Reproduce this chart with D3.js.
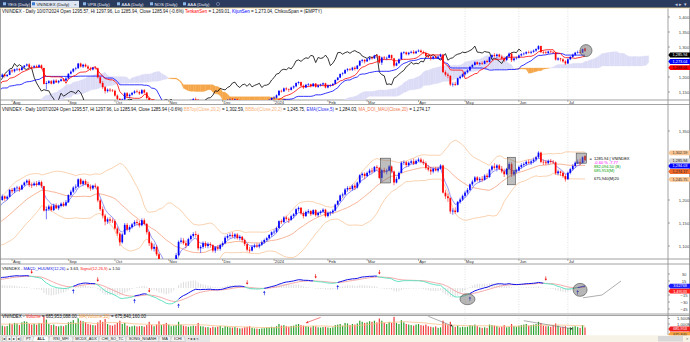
<!DOCTYPE html>
<html><head><meta charset="utf-8">
<script src="https://cdn.jsdelivr.net/npm/d3@7"></script>
<style>
body{margin:0;background:#fff;overflow:hidden}
svg{display:block;font-family:"Liberation Sans",Arial,sans-serif}
</style></head>
<body><svg id="c" width="690" height="342"></svg>
<script>
// ---------------- DATA ----------------
const tradingDays = {
 "2023-04":"3 4 5 6 7 10 11 12 13 14 17 18 19 20 21 24 25 26 27 28",
 "2023-05":"4 5 8 9 10 11 12 15 16 17 18 19 22 23 24 25 26 29 30 31",
 "2023-06":"1 2 5 6 7 8 9 12 13 14 15 16 19 20 21 22 23 26 27 28 29 30",
 "2023-07":"3 4 5 6 7 10 11 12 13 14 17 18 19 20 21 24 25 26 27 28 31",
 "2023-08":"1 2 3 4 7 8 9 10 11 14 15 16 17 18 21 22 23 24 25 28 29 30 31",
 "2023-09":"5 6 7 8 11 12 13 14 15 18 19 20 21 22 25 26 27 28 29",
 "2023-10":"2 3 4 5 6 9 10 11 12 13 16 17 18 19 20 23 24 25 26 27 30 31",
 "2023-11":"1 2 3 6 7 8 9 10 13 14 15 16 17 20 21 22 23 24 27 28 29 30",
 "2023-12":"1 4 5 6 7 8 11 12 13 14 15 18 19 20 21 22 25 26 27 28 29",
 "2024-01":"2 3 4 5 8 9 10 11 12 15 16 17 18 19 22 23 24 25 26 29 30 31",
 "2024-02":"1 2 5 6 7 15 16 19 20 21 22 23 26 27 28 29",
 "2024-03":"1 4 5 6 7 8 11 12 13 14 15 18 19 20 21 22 25 26 27 28 29",
 "2024-04":"1 2 3 4 5 8 9 10 11 12 15 16 17 19 22 23 24 25 26",
 "2024-05":"2 3 6 7 8 9 10 13 14 15 16 17 20 21 22 23 24 27 28 29 30 31",
 "2024-06":"3 4 5 6 7 10 11 12 13 14 17 18 19 20 21 24 25 26 27 28",
 "2024-07":"1 2 3 4 5 8 9 10"
};
const firstVisibleDate = "2023-07-26";

// [open, high, low, close]
const ohlc = [
// 2023-04
[1064,1070,1060,1067],[1067,1072,1063,1068],[1068,1074,1064,1070],[1070,1071,1052,1056],[1056,1062,1052,1057],[1057,1069,1055,1067],[1067,1071,1062,1066],[1066,1068,1054,1057],[1057,1060,1050,1054],[1054,1059,1051,1055],[1055,1057,1046,1050],[1050,1055,1047,1052],[1052,1054,1043,1047],[1047,1050,1041,1044],[1044,1047,1038,1042],[1042,1045,1036,1040],[1040,1042,1030,1034],[1034,1042,1032,1040],[1040,1047,1038,1044],[1044,1052,1042,1049],
// 2023-05
[1049,1051,1039,1042],[1042,1048,1040,1045],[1045,1054,1043,1052],[1052,1058,1050,1055],[1055,1062,1052,1060],[1060,1066,1057,1063],[1063,1069,1060,1066],[1066,1071,1062,1067],[1067,1069,1058,1062],[1062,1064,1052,1055],[1055,1065,1053,1063],[1063,1070,1061,1067],[1067,1070,1061,1065],[1065,1069,1062,1066],[1066,1068,1057,1060],[1060,1070,1058,1068],[1068,1071,1063,1067],[1067,1073,1064,1070],[1070,1076,1067,1073],[1073,1079,1070,1075],
// 2023-06
[1075,1080,1072,1077],[1077,1092,1076,1090],[1090,1101,1088,1098],[1098,1100,1086,1090],[1090,1097,1087,1094],[1094,1104,1092,1101],[1101,1105,1096,1100],[1100,1111,1098,1108],[1108,1113,1104,1109],[1109,1115,1106,1111],[1111,1118,1108,1115],[1115,1124,1112,1120],[1120,1123,1112,1116],[1116,1121,1112,1117],[1117,1125,1114,1122],[1122,1127,1119,1124],[1124,1130,1120,1126],[1126,1128,1118,1122],[1122,1125,1115,1120],[1120,1125,1116,1121],[1121,1131,1119,1128],[1128,1131,1117,1120],
// 2023-07
[1120,1129,1118,1126],[1126,1131,1122,1128],[1128,1133,1124,1129],[1129,1132,1123,1128],[1128,1136,1126,1133],[1133,1143,1131,1140],[1140,1145,1136,1140],[1140,1151,1138,1149],[1149,1164,1147,1161],[1161,1170,1158,1166],[1166,1170,1160,1165],[1165,1175,1163,1172],[1172,1177,1168,1173],[1173,1178,1169,1175],[1175,1184,1172,1181],[1181,1195,1179,1192],[1192,1201,1189,1198],
[1200,1212,1198,1208],[1208,1210,1198,1203],[1203,1210,1200,1207],[1207,1224,1206,1222],
// 2023-08
[1222,1226,1214,1219],[1219,1228,1215,1226],[1226,1231,1220,1227],[1227,1230,1218,1223],[1223,1234,1222,1232],[1232,1240,1230,1238],[1238,1245,1235,1242],[1242,1246,1228,1233],[1233,1238,1226,1232],[1232,1240,1230,1236],[1236,1241,1229,1233],[1233,1243,1231,1239],[1239,1242,1226,1230],[1230,1231,1175,1177],[1177,1186,1158,1180],[1180,1190,1176,1186],[1186,1190,1175,1178],[1178,1192,1176,1188],[1188,1193,1180,1182],[1182,1190,1178,1187],[1187,1195,1184,1192],[1192,1196,1185,1188],[1188,1200,1186,1195],
// 2023-09
[1195,1212,1194,1211],[1211,1222,1208,1218],[1218,1230,1215,1227],[1227,1234,1222,1229],[1229,1247,1228,1245],[1245,1248,1232,1235],[1235,1244,1230,1241],[1241,1245,1232,1235],[1235,1240,1225,1228],[1228,1234,1220,1225],[1225,1233,1222,1231],[1231,1236,1225,1229],[1229,1231,1195,1199],[1199,1202,1176,1180],[1180,1186,1160,1166],[1166,1170,1145,1153],[1153,1162,1148,1158],[1158,1163,1150,1155],[1155,1160,1150,1154],
// 2023-10
[1154,1158,1135,1138],[1138,1142,1122,1127],[1127,1130,1100,1108],[1108,1128,1105,1125],[1125,1150,1124,1146],[1146,1150,1132,1136],[1136,1145,1130,1141],[1141,1150,1138,1147],[1147,1156,1143,1152],[1152,1158,1146,1150],[1150,1155,1140,1145],[1145,1160,1143,1156],[1156,1160,1145,1148],[1148,1150,1125,1130],[1130,1132,1100,1106],[1106,1110,1090,1094],[1094,1105,1088,1098],[1098,1102,1078,1082],[1082,1085,1052,1057],[1057,1068,1050,1064],[1064,1066,1038,1042],[1042,1045,1020,1028],
// 2023-11
[1028,1045,1025,1041],[1041,1050,1035,1046],[1046,1068,1044,1064],[1064,1085,1060,1080],[1080,1112,1078,1109],[1109,1118,1105,1112],[1112,1117,1103,1106],[1106,1112,1095,1101],[1101,1118,1100,1115],[1115,1125,1112,1122],[1122,1130,1118,1126],[1126,1132,1120,1124],[1124,1127,1090,1095],[1095,1102,1085,1098],[1098,1110,1094,1106],[1106,1110,1096,1100],[1100,1108,1095,1104],[1104,1108,1096,1102],[1102,1104,1086,1090],[1090,1100,1085,1097],[1097,1102,1090,1094],[1094,1105,1090,1102],
// 2023-12
[1102,1110,1098,1106],[1106,1122,1104,1118],[1118,1126,1114,1122],[1122,1128,1118,1124],[1124,1130,1118,1121],[1121,1128,1115,1125],[1125,1128,1114,1117],[1117,1124,1112,1120],[1120,1122,1108,1113],[1113,1116,1100,1104],[1104,1106,1088,1092],[1092,1098,1085,1090],[1090,1102,1088,1098],[1098,1105,1095,1101],[1101,1106,1096,1099],[1099,1106,1095,1103],[1103,1112,1100,1108],[1108,1116,1105,1113],[1113,1120,1110,1117],[1117,1126,1115,1124],[1124,1132,1120,1130],
// 2024-01
[1130,1136,1126,1131],[1131,1142,1128,1139],[1139,1156,1138,1154],[1154,1158,1148,1152],[1152,1165,1150,1162],[1162,1166,1155,1159],[1159,1162,1150,1157],[1157,1168,1155,1165],[1165,1172,1160,1169],[1169,1182,1166,1180],[1180,1186,1175,1183],[1183,1185,1168,1171],[1171,1175,1160,1165],[1165,1177,1163,1174],[1174,1180,1170,1176],[1176,1178,1165,1169],[1169,1180,1168,1178],[1178,1180,1164,1167],[1167,1175,1163,1172],[1172,1178,1168,1175],[1175,1182,1172,1179],[1179,1181,1162,1165],
// 2024-02
[1165,1175,1162,1172],[1172,1176,1166,1173],[1173,1180,1170,1177],[1177,1192,1175,1190],[1190,1200,1188,1198],[1198,1212,1196,1210],[1210,1216,1205,1212],[1212,1226,1210,1223],[1223,1230,1218,1226],[1226,1230,1220,1224],[1224,1234,1220,1231],[1231,1236,1222,1227],[1227,1240,1225,1238],[1238,1256,1236,1254],[1254,1260,1248,1257],[1257,1260,1245,1252],
// 2024-03
[1252,1262,1250,1259],[1259,1268,1255,1264],[1264,1270,1258,1262],[1262,1274,1260,1272],[1272,1276,1264,1270],[1270,1272,1245,1248],[1248,1268,1240,1265],[1265,1270,1258,1262],[1262,1268,1256,1264],[1264,1276,1262,1273],[1273,1275,1258,1262],[1262,1264,1232,1238],[1238,1250,1236,1246],[1246,1262,1244,1259],[1259,1284,1258,1281],[1281,1286,1276,1282],[1282,1285,1272,1276],[1276,1284,1272,1281],[1281,1288,1278,1284],[1284,1290,1276,1279],[1279,1288,1277,1285],
// 2024-04
[1285,1292,1283,1288],[1288,1292,1280,1283],[1283,1288,1276,1280],[1280,1284,1266,1270],[1270,1276,1262,1266],[1266,1272,1255,1262],[1262,1270,1258,1268],[1268,1272,1262,1264],[1264,1272,1260,1268],[1268,1278,1266,1275],[1275,1277,1214,1216],[1216,1222,1202,1208],[1208,1214,1196,1204],[1204,1206,1170,1175],[1175,1182,1168,1177],[1177,1184,1170,1174],[1174,1198,1172,1196],[1196,1205,1192,1201],[1201,1212,1198,1209],
// 2024-05
[1209,1220,1205,1216],[1216,1226,1212,1222],[1222,1236,1220,1234],[1234,1244,1230,1240],[1240,1252,1238,1249],[1249,1252,1240,1243],[1243,1250,1238,1246],[1246,1252,1240,1244],[1244,1256,1242,1253],[1253,1258,1246,1250],[1250,1268,1248,1266],[1266,1276,1262,1273],[1273,1280,1266,1270],[1270,1278,1262,1275],[1275,1278,1265,1268],[1268,1274,1258,1262],[1262,1268,1250,1256],[1256,1270,1254,1268],[1268,1282,1265,1278],[1278,1282,1250,1256],[1256,1265,1252,1262],[1262,1268,1258,1264],
// 2024-06
[1264,1275,1262,1272],[1272,1280,1268,1276],[1276,1282,1272,1278],[1278,1286,1275,1283],[1283,1288,1278,1281],[1281,1288,1276,1284],[1284,1292,1280,1288],[1288,1296,1284,1293],[1293,1306,1290,1303],[1303,1305,1280,1283],[1283,1288,1276,1282],[1282,1287,1276,1280],[1280,1288,1277,1285],[1285,1289,1279,1283],[1283,1287,1278,1282],[1282,1284,1255,1258],[1258,1266,1254,1262],[1262,1264,1252,1259],[1259,1262,1248,1252],[1252,1256,1240,1245],
// 2024-07
[1245,1262,1244,1259],[1259,1270,1256,1267],[1267,1278,1264,1274],[1274,1284,1270,1281],[1281,1288,1278,1283],[1283,1290,1276,1281],[1281,1295,1280,1293],[1295.57,1297.96,1285.94,1285.94]
];

// volume, millions of shares
const volumeM = [
620,650,700,680,560,620,600,650,580,540,560,520,580,600,540,560,620,580,600,640,
560,600,680,700,720,760,800,780,820,760,740,800,780,700,720,760,740,820,860,900,
880,1050,1100,1000,950,1000,980,1050,1000,950,1100,1150,1000,950,1000,980,1050,900,880,850,950,900,
850,900,880,820,900,1000,950,1050,1200,1150,1050,1100,1000,950,1050,1150,1200,
850,780,820,1050,
980,1100,1050,900,1150,1250,1200,1000,950,1020,930,1100,1050,1700,1400,1000,900,950,820,780,850,800,900,
1150,1200,1350,1100,1500,1300,1250,1150,1000,950,900,880,1150,1350,1200,1450,1000,900,850,
950,1100,1300,1000,1100,850,750,800,850,780,800,820,760,900,1200,900,800,950,1250,900,1000,1100,
950,800,850,900,1200,950,850,800,750,800,850,820,1100,800,780,700,720,650,750,700,760,820,
650,800,750,700,680,720,650,600,620,700,750,800,650,600,580,560,600,620,680,700,750,
720,800,1000,850,900,800,750,820,850,950,1000,900,850,800,760,700,820,780,700,680,720,750,
680,650,700,900,950,1000,850,1100,1050,900,1000,950,1050,1300,1200,1100,
1150,1250,1200,1300,1150,1500,1300,1100,1000,1200,1100,1650,1100,1000,1350,1150,1000,950,900,850,950,
1000,900,850,950,800,750,700,780,650,700,1300,1050,900,1200,800,750,850,700,750,
720,750,900,850,950,800,700,650,700,650,950,900,850,800,700,750,900,700,750,1000,800,750,
850,900,950,1000,850,900,950,1000,1200,1100,850,800,800,750,900,1050,850,700,750,800,
650,700,750,800,720,650,900,686
];

const monthNames = ["2024","Feb","Mar","Apr","May","Jun","Jul","Aug","Sep","Oct","Nov","Dec"];
const priceTicksTop = [1150,1200,1300,1350,1400];      // 1,250 hidden behind value boxes
const priceTicksMain = [1100,1150,1200,1350];          // 1,250 / 1,300 hidden behind value boxes
const macdTicks = [30,15,-15,-30,-45];                 // 0 hidden behind value boxes
const volumeTicks = [1000,1500];

const lastValues = {open:"1295.57",hi:"1297.96",lo:"1285.94",close:"1285.94",chg:"(-0.6%)",
  tenkan:"1,269.01",kijun:"1,273.04",bbTop:"1,302.59",bbBot:"1,245.75",ema5:"1,284.03",ma20:"1,274.17",
  macd:"3.63",signal:"1.50",macdBox:"3.62768",signalBox:"1.49533",vol:"685,953,088.00",volMA:"675,840,160.00",
  volBox:"685,953",volMABox:"675,840"};

// user drawings (data space)
const boxesMain = [["2024-03-11","2024-03-14",1237,1291],["2024-05-28","2024-05-30",1233,1293],["2024-07-05","2024-07-10",1280,1302]];
const circleTop = ["2024-07-10",1288];
const ellipsesMacd = [["2024-05-03",-24],["2024-07-08",-4]];

// ---------------- BUILD ----------------
const dates=[];
for (const [ym,s] of Object.entries(tradingDays)) for (const d of s.split(" ")) dates.push(ym+"-"+d.padStart(2,"0"));
const N = dates.length;
const D = ohlc.map((r,i)=>({i,date:dates[i],o:r[0],h:r[1],l:r[2],c:r[3],v:volumeM[i]}));
const f0 = dates.indexOf(firstVisibleDate);
const idx = d => dates.indexOf(d);

const svg = d3.select("#c");
const x = d3.scaleLinear().domain([f0, N-1]).range([2.3, 585]);
const RX = 668;

const y1 = d3.scaleLinear().domain([1150,1400]).range([92,17]);
const y2 = d3.scaleLinear().domain([1100,1350]).range([246,131]);
const y3 = d3.scaleLinear().domain([-45,30]).range([309,274]);
const y4 = d3.scaleLinear().domain([0,1500]).range([335,318.5]);

const panels = [
 {id:"p1",top:8.5,bottom:100},
 {id:"p2",top:104.5,bottom:259},
 {id:"p3",top:264,bottom:314},
 {id:"p4",top:315.5,bottom:335}
];
const defs = svg.append("defs");
panels.forEach(p=>{
  defs.append("clipPath").attr("id","clip-"+p.id).append("rect")
   .attr("x",1).attr("y",p.top).attr("width",RX-1).attr("height",p.bottom-p.top);
});

svg.append("rect").attr("width",690).attr("height",342).attr("fill","#fff");

// ---------- indicators ----------
const closes = D.map(d=>d.c);
function ema(arr,n){const a=2/(n+1);const out=[];arr.forEach((v,i)=>out.push(i===0?v:out[i-1]+a*(v-out[i-1])));return out;}
function sma(arr,n){return arr.map((v,i)=>i<n-1?null:d3.mean(arr.slice(i-n+1,i+1)));}
function mid(i,n){const s=D.slice(Math.max(0,i-n+1),i+1);return (d3.max(s,d=>d.h)+d3.min(s,d=>d.l))/2;}
const tenkan = D.map((d,i)=>i<8?null:mid(i,9));
const kijun = D.map((d,i)=>i<25?null:mid(i,26));
const senA = new Array(N+26).fill(null), senB = new Array(N+26).fill(null);
for(let i=0;i<N;i++){ if(i>=25) senA[i+26]=(tenkan[i]+kijun[i])/2; if(i>=51) senB[i+26]=mid(i,52); }
const ma20 = sma(closes,20);
const sd20 = closes.map((v,i)=>i<19?null:d3.deviation(closes.slice(i-19,i+1))*Math.sqrt(19/20));
const bbTop = ma20.map((m,i)=>m==null?null:m+2*sd20[i]);
const bbBot = ma20.map((m,i)=>m==null?null:m-2*sd20[i]);
const ema5 = ema(closes,5);
const e12=ema(closes,12), e26=ema(closes,26);
const macd = closes.map((v,i)=>e12[i]-e26[i]);
const sig = ema(macd,9);
const volMA = sma(volumeM,20);

const fromIdx = f0-3;
function linePath(arr,yS,start=fromIdx,shift=0){
  return d3.line().defined(d=>d.v!=null).x(d=>x(d.i)).y(d=>yS(d.v))(
    arr.map((v,i)=>({i:i+shift,v})).filter(d=>d.i>=start));
}

// ---------- tab bar ----------
svg.append("rect").attr("x",0).attr("y",0).attr("width",690).attr("height",7.8).attr("fill","#2b3b5e");
svg.append("line").attr("x1",0).attr("x2",690).attr("y1",8).attr("y2",8).attr("stroke","#e9c66a").attr("stroke-width",0.6);
const tabs = [["YEG (Daily)",2,28,false],["VNINDEX (Daily)",31,79,true],["VPB (Daily)",82,111,false],["AAA (Daily)",116,143,false],["NOS (Daily)",149,176,false],["AAA (Daily)",182,208,false]];
tabs.forEach(([t,x0,x1,act])=>{
  if(act) svg.append("rect").attr("x",x0).attr("y",0.8).attr("width",x1-x0).attr("height",7).attr("fill","#dfe6f3");
  svg.append("rect").attr("x",x0+1).attr("y",2.3).attr("width",3).attr("height",3).attr("fill",act?"#3a7ad0":"#8fb8e8");
  svg.append("text").attr("x",x0+5.5).attr("y",5.6).attr("font-size",4.3).attr("fill",act?"#111":"#e8ecf5").text(t);
  if(act) svg.append("text").attr("x",x1-5).attr("y",5.6).attr("font-size",4.3).attr("fill","#333").text("×");
});
svg.append("circle").attr("cx",218).attr("cy",4).attr("r",1.6).attr("fill","none").attr("stroke","#9aa8c8").attr("stroke-width",0.5);
svg.append("text").attr("x",675).attr("y",5.5).attr("font-size",4.5).attr("fill","#c8d0e0").text("◂ ▸ ▾");

// ---------- panel frames ----------
const frame = svg.append("g").attr("stroke","#8c8c8c").attr("stroke-width",0.8).attr("fill","none");
[100,104.5,259,264,314,315.5].forEach(yy=>frame.append("line").attr("x1",0).attr("x2",690).attr("y1",yy).attr("y2",yy));
frame.append("line").attr("x1",RX).attr("x2",RX).attr("y1",8.5).attr("y2",335);
frame.append("line").attr("x1",0.5).attr("x2",0.5).attr("y1",8.5).attr("y2",335);
frame.append("line").attr("x1",689.5).attr("x2",689.5).attr("y1",8.5).attr("y2",335);

// month ticks
const mStarts=[];
for(let i=f0+1;i<N;i++){ if(dates[i].slice(0,7)!==dates[i-1].slice(0,7)) mStarts.push(i); }
[100,259].forEach(yb=>{
  const g=svg.append("g");
  mStarts.forEach(i=>{
    const m=+dates[i].slice(5,7);
    const lab = m===1? dates[i].slice(0,4) : monthNames[m-1];
    g.append("line").attr("x1",x(i)).attr("x2",x(i)).attr("y1",yb).attr("y2",yb+2).attr("stroke","#666").attr("stroke-width",0.5);
    g.append("text").attr("x",x(i)+0.8).attr("y",yb+3.8).attr("font-size",4.2).attr("fill","#333").text(lab);
  });
});
// dotted grid lines (May/Jun/Jul)
const grid = svg.append("g").attr("stroke","#c4c4c4").attr("stroke-width",0.5).attr("stroke-dasharray","1,1.5");
mStarts.filter(i=>dates[i]>="2024-05").forEach(i=>{
  panels.forEach(p=>grid.append("line").attr("x1",x(i)).attr("x2",x(i)).attr("y1",p.top).attr("y2",p.bottom));
});

// ---------- right axes ----------
function rightAxis(scale,ticks,fmt){
  const g=svg.append("g");
  ticks.forEach(t=>{
    g.append("line").attr("x1",RX).attr("x2",RX+2).attr("y1",scale(t)).attr("y2",scale(t)).attr("stroke","#555").attr("stroke-width",0.5);
    g.append("text").attr("x",684).attr("y",scale(t)+1.5).attr("font-size",4.2).attr("text-anchor","middle").attr("fill","#444").text(fmt(t));
  });
}
rightAxis(y1,priceTicksTop,d3.format(","));
rightAxis(y2,priceTicksMain,d3.format(","));
rightAxis(y3,macdTicks,d3.format("d"));
rightAxis(y4,volumeTicks,v=>d3.format(",")(v)+"M");

// ---------- candles ----------
function candles(g,yS){
  D.filter(d=>d.i>=f0).forEach(d=>{
    const col=d.c>=d.o?"#0000ff":"#ff0000";
    g.append("line").attr("x1",x(d.i)).attr("x2",x(d.i)).attr("y1",yS(d.h)).attr("y2",yS(d.l)).attr("stroke",col).attr("stroke-width",0.55);
    const t=yS(Math.max(d.o,d.c)), b=yS(Math.min(d.o,d.c));
    g.append("rect").attr("x",x(d.i)-0.85).attr("width",1.7).attr("y",t).attr("height",Math.max(0.6,b-t)).attr("fill",col);
  });
}

// ---------- PANEL 1: Ichimoku ----------
const g1 = svg.append("g").attr("clip-path","url(#clip-p1)");
const cloud = g1.append("g");
for(let j=fromIdx;j<N+25;j++){
  const a0=senA[j],b0=senB[j],a1=senA[j+1],b1=senB[j+1];
  if(a0==null||b0==null||a1==null||b1==null) continue;
  const d0=a0-b0,d1=a1-b1;
  const col=v=>v>=0?"#dcdcf7":"#f6a649";
  const X0=x(j),X1=x(j+1);
  if(d0*d1>=0){
    cloud.append("path").attr("d",`M${X0},${y1(a0)}L${X1},${y1(a1)}L${X1},${y1(b1)}L${X0},${y1(b0)}Z`).attr("fill",col(d0+d1)).attr("stroke",col(d0+d1)).attr("stroke-width",0.3);
  } else {
    const t=d0/(d0-d1), Xm=X0+t*(X1-X0), Ym=y1(a0+t*(a1-a0));
    cloud.append("path").attr("d",`M${X0},${y1(a0)}L${Xm},${Ym}L${X0},${y1(b0)}Z`).attr("fill",col(d0)).attr("stroke",col(d0)).attr("stroke-width",0.3);
    cloud.append("path").attr("d",`M${Xm},${Ym}L${X1},${y1(a1)}L${X1},${y1(b1)}Z`).attr("fill",col(d1)).attr("stroke",col(d1)).attr("stroke-width",0.3);
  }
}
g1.append("path").attr("d",linePath(closes,y1,fromIdx,-26)).attr("fill","none").attr("stroke","#000").attr("stroke-width",0.8);
g1.append("path").attr("d",linePath(kijun,y1)).attr("fill","none").attr("stroke","#0000ff").attr("stroke-width",0.8);
g1.append("path").attr("d",linePath(tenkan,y1)).attr("fill","none").attr("stroke","#ff0000").attr("stroke-width",0.8);
candles(g1,y1);
g1.append("circle").attr("cx",x(idx(circleTop[0]))+1).attr("cy",y1(circleTop[1])).attr("r",6)
  .attr("fill","rgba(120,120,120,0.55)").attr("stroke","#444").attr("stroke-width",0.6);

// ---------- PANEL 2: BB ----------
const g2 = svg.append("g").attr("clip-path","url(#clip-p2)");
g2.append("path").attr("d",linePath(bbTop,y2)).attr("fill","none").attr("stroke","#f9c79c").attr("stroke-width",0.8);
g2.append("path").attr("d",linePath(bbBot,y2)).attr("fill","none").attr("stroke","#f9c79c").attr("stroke-width",0.8);
g2.append("path").attr("d",linePath(ma20,y2)).attr("fill","none").attr("stroke","#f5a27e").attr("stroke-width",0.8);
g2.append("path").attr("d",linePath(ema5,y2)).attr("fill","none").attr("stroke","#7a7af2").attr("stroke-width",0.8);
candles(g2,y2);
boxesMain.forEach(([d0,d1,v0,v1])=>{
  g2.append("rect").attr("x",x(idx(d0))-1.5).attr("width",x(idx(d1))-x(idx(d0))+3).attr("y",y2(v1)).attr("height",y2(v0)-y2(v1))
   .attr("fill","rgba(110,110,110,0.45)").attr("stroke","#333").attr("stroke-width",0.5);
});
const ann = [["1285.94 | VNINDEX","#000",159.5],["-0.60 % -7.77","#ff00ff",163.6],["882,094.50 (B)","#00a000",167.7],["685,953(M)","#00a000",171.8],["675,940(M)20","#000",179.6]];
ann.forEach(([t,c,yy])=>svg.append("text").attr("x",594).attr("y",yy).attr("font-size",4).attr("fill",c).text(t));
svg.append("text").attr("x",589.5).attr("y",159.5).attr("font-size",4).attr("fill","#000").text("=");

// ---------- PANEL 3: MACD ----------
const g3 = svg.append("g").attr("clip-path","url(#clip-p3)");
D.filter(d=>d.i>=fromIdx).forEach(d=>{
  const h=(macd[d.i]-sig[d.i])*1.6;
  g3.append("line").attr("x1",x(d.i)).attr("x2",x(d.i)).attr("y1",y3(0)).attr("y2",y3(h)).attr("stroke","#cfcfcf").attr("stroke-width",0.7);
});
g3.append("path").attr("d",linePath(sig,y3)).attr("fill","none").attr("stroke","#f4a0a0").attr("stroke-width",0.9);
for(let i=fromIdx;i<N-1;i++){
  const col = macd[i]>=sig[i] && macd[i+1]>=sig[i+1] ? "#1010e8" : "#63e3c2";
  g3.append("line").attr("x1",x(i)).attr("x2",x(i+1)).attr("y1",y3(macd[i])).attr("y2",y3(macd[i+1])).attr("stroke",col).attr("stroke-width",1);
}
for(let i=f0+1;i<N;i++){
  const p=macd[i-1]-sig[i-1], q=macd[i]-sig[i];
  if(p<0&&q>=0){
    const yy=y3(Math.min(macd[i],sig[i]))+2.5;
    g3.append("path").attr("d",`M${x(i)},${yy}L${x(i)-1.3},${yy+2}L${x(i)+1.3},${yy+2}Z M${x(i)-0.3},${yy+2}h0.6v2.5h-0.6Z`).attr("fill","#1a2ae0");
  } else if(p>0&&q<=0){
    const yy=Math.max(272.5,y3(Math.max(macd[i],sig[i]))-2.5);
    g3.append("path").attr("d",`M${x(i)},${yy}L${x(i)-1.3},${yy-2}L${x(i)+1.3},${yy-2}Z M${x(i)-0.3},${yy-2}h0.6v-2.5h-0.6Z`).attr("fill","#ee1111");
  }
}
ellipsesMacd.forEach(([d,v],k)=>{
  g3.append("ellipse").attr("cx",x(idx(d))).attr("cy",y3(v)).attr("rx",k===0?7.5:7).attr("ry",k===0?5.5:6.5)
   .attr("fill","rgba(110,110,110,0.5)").attr("stroke","#333").attr("stroke-width",0.5);
});
svg.append("path").attr("d",`M${x(N-1)-2},${y3(-21)}L${x(N-1)+17},${y3(-15)}L${x(N-1)+36},${y3(15)}`).attr("fill","none").attr("stroke","#777").attr("stroke-width",0.6);

// ---------- PANEL 4: Volume ----------
const g4 = svg.append("g").attr("clip-path","url(#clip-p4)");
D.filter(d=>d.i>=f0).forEach(d=>{
  const col = d.c>=d.o ? "#2ca02c" : "#f03a3a";
  g4.append("rect").attr("x",x(d.i)-0.6).attr("width",1.2).attr("y",y4(d.v)).attr("height",y4(0)-y4(d.v)).attr("fill",col);
});
g4.append("path").attr("d",linePath(volMA,y4)).attr("fill","none").attr("stroke","#f9c08c").attr("stroke-width",0.8);
function arrow(xa,ya,xb,yb,col){
  svg.append("line").attr("x1",xa).attr("y1",ya).attr("x2",xb).attr("y2",yb).attr("stroke",col).attr("stroke-width",0.6);
  const ang=Math.atan2(yb-ya,xb-xa), L=2.6;
  svg.append("path").attr("d",`M${xb},${yb}L${xb-L*Math.cos(ang-0.45)},${yb-L*Math.sin(ang-0.45)}L${xb-L*Math.cos(ang+0.45)},${yb-L*Math.sin(ang+0.45)}Z`).attr("fill",col==="#f03030"?col:"#222");
}
arrow(x(idx("2024-01-29")),y4(1600),x(idx("2024-01-19")),y4(1100),"#f03030");
arrow(x(idx("2024-04-05")),y4(1700),x(idx("2024-04-22")),y4(800),"#777");
arrow(x(idx("2024-06-05")),y4(1300),x(idx("2024-07-03")),y4(550),"#777");

// ---------- value boxes on right axis ----------
function vbox(yc,txt,bg,fg){
  svg.append("path").attr("d",`M${RX+0.3},${yc}L${RX+2.2},${yc-2.4}H690V${yc+2.4}H${RX+2.2}Z`).attr("fill",bg);
  svg.append("text").attr("x",680).attr("y",yc+1.35).attr("font-size",3.8).attr("text-anchor","middle").attr("fill",fg).text(txt);
}
vbox(55,"1,285.94","#000","#fff");
vbox(61.5,lastValues.kijun,"#0000ff","#fff");
vbox(67.7,lastValues.tenkan,"#ff0000","#000");
vbox(y2(1302.59),lastValues.bbTop,"#f9c592","#333");
vbox(y2(1285.94)+0.3,"1,285.94","#d6d6d6","#222");
vbox(166,lastValues.ema5,"#0000ff","#fff");
vbox(171.5,lastValues.ma20,"#f0692a","#222");
vbox(y2(1245.75)+0.5,lastValues.bbBot,"#f9c592","#333");
vbox(286.1,lastValues.macdBox,"#1a1aff","#fff");
vbox(291.2,lastValues.signalBox,"#ff2020","#fff");
vbox(329,lastValues.volBox,"#ee2020","#fff");
vbox(334.5,lastValues.volMABox,"#f7a040","#333");

// ---------- headers (font size fitted to measured width) ----------
function header(yy,parts,len){
  const t=svg.append("text").attr("x",2).attr("y",yy).attr("font-size",4.4);
  parts.forEach(([s,c])=>t.append("tspan").attr("fill",c).text(s));
  const w=t.node().getComputedTextLength();
  if(w>0) t.attr("font-size",(4.4*len/w).toFixed(3));
}
const base = `VNINDEX - Daily 10/07/2024 Open ${lastValues.open}, Hi ${lastValues.hi}, Lo ${lastValues.lo}, Close ${lastValues.close} ${lastValues.chg}  `;
header(13,[[base,"#111"],["TenkanSen","#ff0000"],[` = ${lastValues.tenkan}, `,"#111"],["KijunSen","#0000ff"],[` = ${lastValues.kijun}, ChikouSpan = (EMPTY)`,"#111"]],320);
header(111.3,[[base,"#111"],["BBTop(Close,20,2)","#f7b27a"],[` = ${lastValues.bbTop}, `,"#111"],["BBBot(Close,20,2)","#f7b27a"],[` = ${lastValues.bbBot}, `,"#111"],["EMA(Close,5)","#3030f0"],[` = ${lastValues.ema5}, `,"#111"],["MA_DOI_MAU(Close,20)","#f07850"],[` = ${lastValues.ma20}`,"#111"]],428);
header(270.3,[["VNINDEX - ","#111"],["MACD_HUUMX(12,26)","#1010e0"],[` = ${lastValues.macd}, `,"#111"],["Signal(12,26,9)","#ff2020"],[` = ${lastValues.signal}`,"#111"]],118);
header(318.4,[["VNINDEX - ","#111"],["Volume","#ff2020"],[` = ${lastValues.vol}, `,"#111"],["MA(Volume,20)","#f7a040"],[` = ${lastValues.volMA}`,"#111"]],144);

// ---------- bottom bar ----------
svg.append("rect").attr("x",0).attr("y",335.3).attr("width",690).attr("height",6.7).attr("fill","#f7f3e6");
svg.append("rect").attr("x",0).attr("y",335.3).attr("width",210).attr("height",6.7).attr("fill","#e6e6e6");
["|◂","◂","▸","▸|"].forEach((s,k)=>{
  svg.append("rect").attr("x",1+k*5.3).attr("y",336).attr("width",4.8).attr("height",5.3).attr("fill","#f4f4f4").attr("stroke","#999").attr("stroke-width",0.3);
  svg.append("text").attr("x",3.4+k*5.3).attr("y",340.2).attr("font-size",3.6).attr("text-anchor","middle").attr("fill","#222").text(s);
});
const btabs=[["PT",24,33],["ALL",34,48],["RSI_MFI",50,72],["MCDX_ADX",74,98],["CHI_SO_TC",100,125],["SONG_NGANH",127,158],["MA",160,170],["ICHI",172,184]];
btabs.forEach(([t,a,b])=>{
  svg.append("path").attr("d",`M${a},336H${b}L${b+1.5},341.5H${a-1.5}Z`).attr("fill",t==="ALL"?"#fff":"#f2f2f2").attr("stroke","#999").attr("stroke-width",0.3);
  svg.append("text").attr("x",(a+b)/2).attr("y",340.3).attr("font-size",3.9).attr("text-anchor","middle").attr("font-weight",t==="ALL"?"bold":"normal").attr("fill","#222").text(t);
});
svg.append("text").attr("x",188).attr("y",340.3).attr("font-size",3.8).attr("fill","#222").text("▪ ◂ ◂ <");
svg.append("rect").attr("x",658).attr("y",336).attr("width",25).attr("height",5.5).attr("fill","#d8d8d8");
svg.append("text").attr("x",686).attr("y",340.3).attr("font-size",3.8).attr("fill","#333").text(">");
</script>
</body></html>
